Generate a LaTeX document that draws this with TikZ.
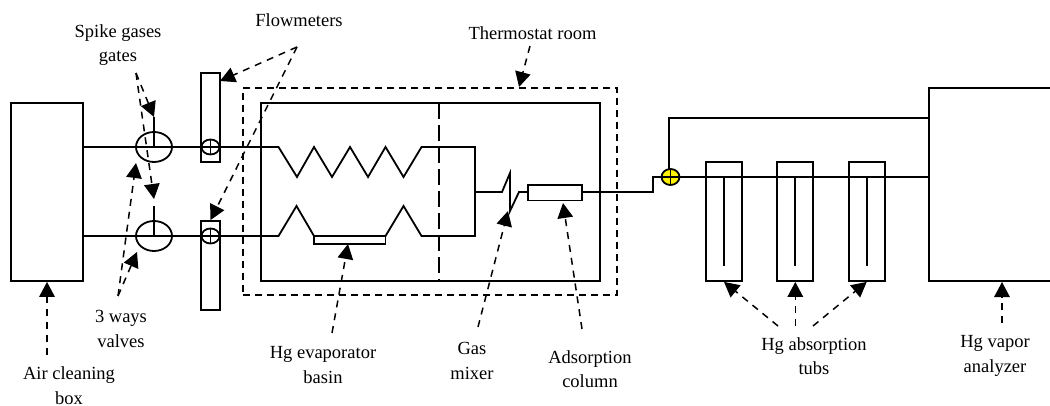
\documentclass[tikz,border=0pt]{standalone}
\usepackage{fontspec}
\setmainfont{Liberation Serif}
\usetikzlibrary{arrows.meta,calc,shapes.geometric}

\begin{document}
\begin{tikzpicture}[
    x=1pt, y=-1pt,
    pipe/.style={line width=1.8pt, line join=miter},
    box/.style={rectangle, draw, line width=1.8pt, inner sep=0pt, minimum width=#1},
    valve/.style={ellipse, draw, line width=1.8pt, inner sep=0pt, minimum width=36pt, minimum height=30pt},
    rota/.style={ellipse, draw, line width=1.8pt, inner sep=0pt, minimum width=18pt, minimum height=15pt},
    lbl/.style={font=\fontsize{18.5}{24.5}\selectfont, align=center, inner sep=0pt},
    callout/.style={-{Triangle[length=15pt,width=15.5pt]}, line width=1.5pt, dash pattern=on 7pt off 6pt},
    room/.style={line width=1.5pt, dash pattern=on 7pt off 5pt}
]
\useasboundingbox (0,0) rectangle (1050,406);

% Air cleaning box and valves
\node[box=72pt, minimum height=178pt] (airbox) at (47,192) {};
\node[valve] (valveup) at (154,147) {};
\node[valve] (valvedown) at (154,236) {};
\coordinate (gateup) at (154,117);
\coordinate (gatedown) at (154,206);
\draw[pipe] (gateup) -- (valveup.center);
\draw[pipe] (gatedown) -- (valvedown.center);

% Flowmeters
\node[box=18.5pt, minimum height=89pt] (flowup) at (210.5,117.5) {};
\node[box=18.5pt, minimum height=89pt] (flowdown) at (210.5,265.5) {};
\node[rota] (rotaup) at (210.5,147) {};
\node[rota] (rotadown) at (210.5,236) {};
\draw[pipe] (rotaup.north) -- (rotaup.south);
\draw[pipe] (rotadown.north) -- (rotadown.south);

% Thermostat room
\node[box=374pt, minimum height=207pt, room] (thermo) at (430,191.5) {};
\node[box=339pt, minimum height=178pt] (chamber) at (430.5,192) {};
\draw[line width=1.8pt, dash pattern=on 16pt off 6pt] (439,103) -- (439,281);

% Upper coil and evaporator line
\draw[pipe] (airbox.east |- valveup) -- (278.5,147) -- (297,177) -- (314,147) -- (332,177) -- (350,147)
    -- (368,177) -- (385.5,147) -- (403.5,177) -- (421.5,147) -- (475,147) -- (475,236) -- (421.5,236)
    -- (403.5,206) -- (385.5,236) -- (314,236) -- (296.5,206) -- (278.5,236) -- (airbox.east |- valvedown);
\node[box=71.5pt, minimum height=8pt] (basin) at (349.75,240) {};

% Mixer and column
\node[box=54pt, minimum height=15.5pt] (column) at (555,192.75) {};
\draw[pipe] (475,192) -- (502,192) -- (510,173) -- (510,211) -- (519,192) -- (column.west |- 0,192);

% Outlet to the analyzer
\node[ellipse, draw, fill=yellow, line width=1.8pt, inner sep=0pt, minimum width=18pt, minimum height=16pt] (tee) at (670.5,177) {};
\coordinate (anaNW) at (929,88);
\coordinate (anaSW) at (929,281);
\draw[pipe] (1052,88) -- (anaNW) -- (anaSW) -- (1052,281);
\draw[pipe] (column.east |- 0,192) -- (653,192) -- (653,177) -- (tee.west);
\draw[pipe] (tee.west) -- (anaNW |- tee);
\draw[pipe] (669,170) -- (669,118) -- (929,118);
\draw[pipe] (tee.north) -- (tee.south);

% Tubs
\node[box=36pt, minimum height=119pt] (tubone) at (724,221.5) {};
\node[box=36pt, minimum height=119pt] (tubtwo) at (795.3,221.5) {};
\node[box=36pt, minimum height=119pt] (tubthree) at (866.7,221.5) {};
\draw[pipe] (724,177) -- (724,266.5);
\draw[pipe] (795.3,177) -- (795.3,266.5);
\draw[pipe] (866.7,177) -- (866.7,266.5);

% Labels
\node[lbl] (spike) at (118,45) {Spike gases\\gates};
\node[lbl] (flowlbl) at (299,20) {Flowmeters};
\node[lbl] (thermolbl) at (532.5,33) {Thermostat room};
\node[lbl] (ways) at (121,329) {3 ways\\valves};
\node[lbl] (airlbl) at (69,385.5) {Air cleaning\\box};
\node[lbl] (evaplbl) at (323,365) {Hg evaporator\\basin};
\node[lbl] (gaslbl) at (472,361) {Gas\\mixer};
\node[lbl] (adslbl) at (590,369) {Adsorption\\column};
\node[lbl] (tubslbl) at (814,356) {Hg absorption\\tubs};
\node[lbl] (analbl) at (995,356) {Hg vapor\\analyzer};

% Callouts
\coordinate (spikefoot) at (136,73);
\coordinate (flowfoot) at (297,47);
\coordinate (waysfoot) at (118,296);
\coordinate (tubsfoot) at (795.3,326);
\draw[callout] (spikefoot) -- (gateup);
\draw[callout] (spikefoot) -- (154,199);
\draw[callout] (flowfoot) -- (220,81);
\draw[callout] (flowfoot) -- (flowdown.north);
\draw[callout] (530,46) -- (519,87);
\draw[callout] (waysfoot) -- (136,163);
\draw[callout] (waysfoot) -- (137,252);
\draw[callout] (47,355) -- (airbox.south);
\draw[callout] (332,333) -- (348,244);
\draw[callout] (478,327) -- (508,211);
\draw[callout] (582,329) -- (563,203);
\draw[callout] (778,326) -- (tubone.south);
\draw[callout] (tubsfoot) -- (tubtwo.south);
\draw[callout] (813,326) -- (tubthree.south);
\draw[callout] (1002,323) -- (1002,282);
\end{tikzpicture}
\end{document}
